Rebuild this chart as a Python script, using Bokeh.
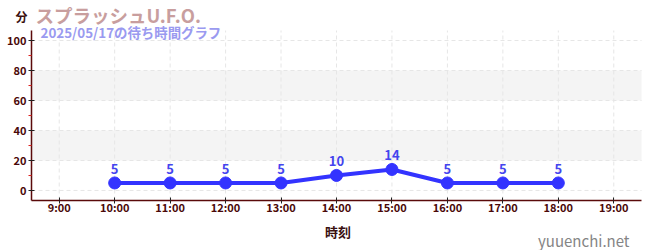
from bokeh.plotting import figure
from bokeh.models import (BoxAnnotation, Label, Range1d, FixedTicker, LinearAxis,
                          CustomJSTickFormatter, ColumnDataSource, LabelSet)
from bokeh.core.properties import value
from bokeh.embed import file_html
from bokeh.resources import INLINE

# Wait times (minutes) by hour of day
hours = [10, 11, 12, 13, 14, 15, 16, 17, 18]
wait_minutes = [5, 5, 5, 5, 10, 14, 5, 5, 5]
x_ticks = [9, 10, 11, 12, 13, 14, 15, 16, 17, 18, 19]
y_ticks = [0, 20, 40, 60, 80, 100]
y_minor_ticks = [10, 30, 50, 70, 90]

FONT = "Noto Sans CJK JP"
AXIS_RED = "#5a0a0a"
TICK_LABEL = "#4a0808"
LINE_BLUE = "#3333ff"
W, H = 650, 250

# data extent of the plotting box and where that box sits on the page
X_LIM = (8.5, 19.5)
Y_LIM = (-6.7, 106.7)
BOX_LEFT, BOX_RIGHT, BOX_TOP, BOX_BOTTOM = 31, 641, 30, 200

# the frame covers the whole canvas so that headings and footers are never clipped;
# the ranges are widened so the plotting box lands at the pixels above
kx = (X_LIM[1] - X_LIM[0]) / (BOX_RIGHT - BOX_LEFT)
ky = (Y_LIM[1] - Y_LIM[0]) / (BOX_BOTTOM - BOX_TOP)
x_range = Range1d(X_LIM[0] - BOX_LEFT * kx, X_LIM[1] + (W - BOX_RIGHT) * kx)
y_range = Range1d(Y_LIM[0] - (H - BOX_BOTTOM) * ky, Y_LIM[1] + BOX_TOP * ky)

p = figure(width=W, height=H, output_backend="svg", toolbar_location=None,
           x_range=x_range, y_range=y_range, x_axis_type=None, y_axis_type=None,
           min_border=0, outline_line_color=None)
p.title.visible = False

# alternating background bands
for lo, hi in [(20, 40), (60, 80)]:
    p.add_layout(BoxAnnotation(left=X_LIM[0], right=X_LIM[1], bottom=lo, top=hi,
                               fill_color="#f4f4f4", fill_alpha=1.0,
                               line_color=None, level="underlay"))

# dashed grid lines limited to the plotting box
p.segment(x0=x_ticks, x1=x_ticks, y0=[Y_LIM[0]] * len(x_ticks),
          y1=[Y_LIM[1]] * len(x_ticks), line_color="#e6e6e6", line_dash="4 3",
          line_width=1)
p.segment(x0=[X_LIM[0]] * len(y_ticks), x1=[X_LIM[1]] * len(y_ticks),
          y0=y_ticks, y1=y_ticks, line_color="#e6e6e6", line_dash="4 3",
          line_width=1)

xaxis = LinearAxis(fixed_location=Y_LIM[0], bounds=X_LIM,
                   ticker=FixedTicker(ticks=x_ticks),
                   formatter=CustomJSTickFormatter(code="return tick + ':00';"))
yaxis = LinearAxis(fixed_location=X_LIM[0], bounds=Y_LIM,
                   ticker=FixedTicker(ticks=y_ticks, minor_ticks=y_minor_ticks))
for ax in (xaxis, yaxis):
    ax.axis_line_color = AXIS_RED
    ax.axis_line_width = 1.5
    ax.major_tick_line_color = "#222222"
    ax.major_label_text_font = FONT
    ax.major_label_text_font_style = "bold"
    ax.major_label_text_font_size = "11px"
    ax.major_label_text_color = TICK_LABEL
    ax.major_tick_in = 3
    ax.major_tick_out = 3
xaxis.minor_tick_line_color = None
xaxis.major_label_standoff = -5
yaxis.minor_tick_line_color = "#dd2222"
yaxis.minor_tick_in = 0
yaxis.minor_tick_out = 3
yaxis.major_label_standoff = 2
p.add_layout(xaxis, "below")
p.add_layout(yaxis, "left")

src = ColumnDataSource(dict(x=hours, y=wait_minutes,
                            t=[str(v) for v in wait_minutes]))
p.line("x", "y", source=src, line_color=LINE_BLUE, line_width=4)
p.scatter("x", "y", source=src, size=12, fill_color=LINE_BLUE,
          line_color=LINE_BLUE)
p.add_layout(LabelSet(x="x", y="y", text="t", source=src, y_offset=9,
                      text_align="center", text_font=value(FONT),
                      text_font_style="bold", text_font_size="13px",
                      text_color="#4444ee"))

def page_text(txt, cx, cy, size, color, bold=True, align="left",
              baseline="middle"):
    # position given in page pixels, top-left origin
    p.add_layout(Label(x=cx, y=cy, x_units="canvas", y_units="canvas", text=txt,
                       text_font=FONT, text_font_size=size, text_color=color,
                       text_font_style="bold" if bold else "normal",
                       text_align=align, text_baseline=baseline))

page_text("分", 21, 15.5, "12px", "#3a1010", align="center")
page_text("スプラッシュU.F.O.", 35, 14.5, "18.5px", "#c89e9e")
page_text("2025/05/17の待ち時間グラフ", 40, 31, "13.4px", "#9a9af0")
page_text("時刻", 337.5, 230.5, "13px", "#3a1010", align="center")
page_text("yuuenchi.net", 629, 240, "15px", "#858585", bold=False,
          align="right", baseline="alphabetic")

open("out.html", "w").write(file_html(p, INLINE))
